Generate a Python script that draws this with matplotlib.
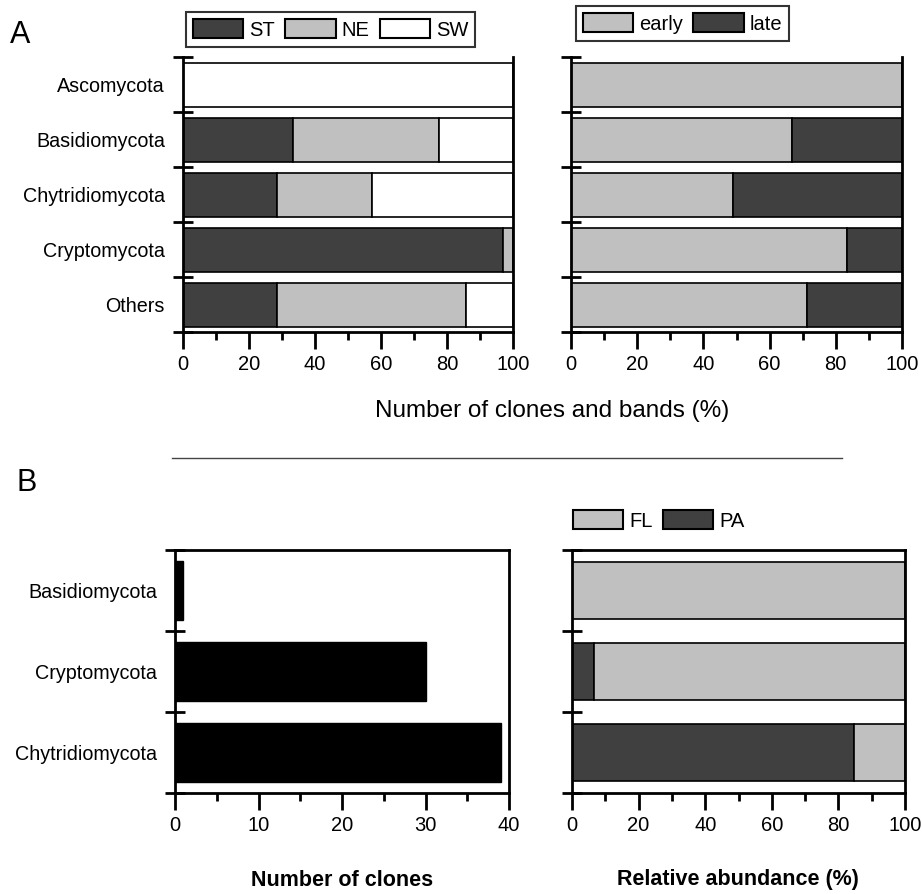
import matplotlib
matplotlib.use("Agg")
import matplotlib.pyplot as plt
from matplotlib.patches import Patch
import numpy as np

plt.rcParams['font.family'] = ['Liberation Sans', 'DejaVu Sans']

# Panel A data (percent)
A_CATS = ["Ascomycota", "Basidiomycota", "Chytridiomycota", "Cryptomycota", "Others"]
A_ST = [0, 33.3, 28.6, 97.1, 28.6]
A_NE = [0, 44.4, 28.6, 2.9, 57.1]
A_SW = [100, 22.3, 42.8, 0, 14.3]
A_EARLY = [100, 66.7, 48.8, 83.3, 71.4]
A_LATE = [0, 33.3, 51.2, 16.7, 28.6]

# Panel B data
B_CATS = ["Basidiomycota", "Cryptomycota", "Chytridiomycota"]
B_CLONES = [1, 30, 39]
B_PA = [0, 6.5, 84.6]
B_FL = [100, 93.5, 15.4]

DARK = "#404040"
LIGHT = "#c0c0c0"
W, H = 922, 894
FS = 14.5


def fig_rect(x0, y0, x1, y1):
    return [x0 / W, 1 - y1 / H, (x1 - x0) / W, (y1 - y0) / H]


def style_axes(ax, n, xmax, major, minor, labels=None, top=False):
    ax.set_ylim(n - 0.5, -0.5)
    ax.set_xlim(0, xmax)
    for s in ax.spines.values():
        s.set_linewidth(2)
    ax.spines['top'].set_visible(top)
    ax.set_xticks(np.arange(0, xmax + 0.1, major))
    ax.set_xticks(np.arange(minor, xmax, major), minor=True)
    ax.tick_params(axis='x', which='major', direction='out', length=12, width=2,
                   pad=4.5, labelsize=FS)
    ax.tick_params(axis='x', which='minor', direction='out', length=6, width=2)
    ax.set_yticks(np.arange(-0.5, n, 1.0))
    ax.set_yticklabels([])
    ax.tick_params(axis='y', which='major', direction='inout', length=14, width=2,
                   left=True, right=False)
    if labels is not None:
        ax.set_yticks(np.arange(n), minor=True)
        ax.set_yticklabels(labels, minor=True, fontsize=14.2)
        ax.tick_params(axis='y', which='minor', length=0, pad=13)
    else:
        ax.tick_params(axis='y', which='minor', length=0)


fig = plt.figure(figsize=(W / 100, H / 100), dpi=100)

# ---- Panel A left
ax1 = fig.add_axes(fig_rect(183, 57, 513, 332))
y = np.arange(len(A_CATS))
st = np.array(A_ST)
ne = np.array(A_NE)
sw = np.array(A_SW)
ax1.barh(y, st, height=0.8, color=DARK, edgecolor='black', linewidth=1.2)
ax1.barh(y, ne, left=st, height=0.8, color=LIGHT, edgecolor='black', linewidth=1.2)
ax1.barh(y, sw, left=st + ne, height=0.8, color='white', edgecolor='black', linewidth=1.2)
style_axes(ax1, len(A_CATS), 100, 20, 10, labels=A_CATS)

# ---- Panel A right
ax2 = fig.add_axes(fig_rect(571, 57, 902, 332))
early = np.array(A_EARLY)
late = np.array(A_LATE)
ax2.barh(y, early, height=0.8, color=LIGHT, edgecolor='black', linewidth=1.2)
ax2.barh(y, late, left=early, height=0.8, color=DARK, edgecolor='black', linewidth=1.2)
style_axes(ax2, len(A_CATS), 100, 20, 10)

# ---- Panel B left
ax3 = fig.add_axes(fig_rect(175, 550, 509, 793))
yb = np.arange(len(B_CATS))
ax3.barh(yb, B_CLONES, height=0.72, color='black', edgecolor='black')
style_axes(ax3, len(B_CATS), 40, 10, 5, labels=B_CATS, top=True)

# ---- Panel B right
ax4 = fig.add_axes(fig_rect(572, 550, 905, 793))
pa = np.array(B_PA)
fl = np.array(B_FL)
ax4.barh(yb, pa, height=0.7, color=DARK, edgecolor='black', linewidth=1.2)
ax4.barh(yb, fl, left=pa, height=0.7, color=LIGHT, edgecolor='black', linewidth=1.2)
style_axes(ax4, len(B_CATS), 100, 20, 10, top=True)


def patch(c):
    return Patch(facecolor=c, edgecolor='black', linewidth=1.5)


leg_kw = dict(loc='upper left', fontsize=FS, handlelength=2.5, handleheight=1.1,
              handletextpad=0.3, columnspacing=0.5, borderpad=0.35,
              fancybox=False, borderaxespad=0)

lg = fig.legend([patch(DARK), patch(LIGHT), patch('white')], ["ST", "NE", "SW"],
                ncol=3, bbox_to_anchor=(186 / W, 1 - 12 / H), **leg_kw)
lg.get_frame().set_edgecolor('black')
lg.get_frame().set_linewidth(1.5)

lg = fig.legend([patch(LIGHT), patch(DARK)], ["early", "late"],
                ncol=2, bbox_to_anchor=(576 / W, 1 - 6 / H), **leg_kw)
lg.get_frame().set_edgecolor('black')
lg.get_frame().set_linewidth(1.5)

fig.legend([patch(LIGHT), patch(DARK)], ["FL", "PA"], ncol=2, frameon=False,
           bbox_to_anchor=(566 / W, 1 - 503 / H), **leg_kw)

# labels
fig.text(552 / W, 1 - 411 / H, "Number of clones and bands (%)", ha='center',
         va='center', fontsize=17.5)
fig.text(342 / W, 1 - 880 / H, "Number of clones", ha='center', va='center',
         fontsize=15.5, fontweight='bold')
fig.text(738 / W, 1 - 880 / H, "Relative abundance (%)", ha='center', va='center',
         fontsize=15.5, fontweight='bold')
fig.text(10 / W, 1 - 35 / H, "A", fontsize=22, va='center')
fig.text(16 / W, 1 - 483 / H, "B", fontsize=22, va='center')

# separator line
fig.add_artist(plt.Line2D([172 / W, 842 / W], [1 - 458 / H, 1 - 458 / H],
                          color='#444444', linewidth=1))

fig.savefig("out.png", dpi=100)
